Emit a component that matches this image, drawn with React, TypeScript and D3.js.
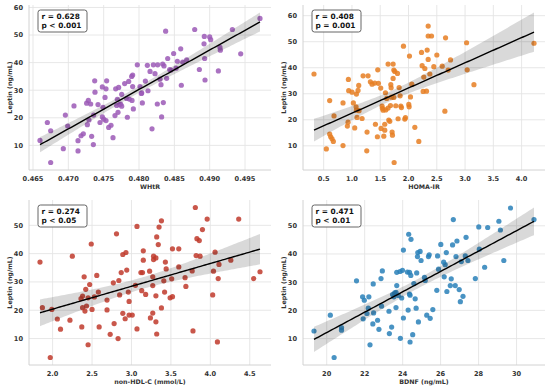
import React, { useEffect, useRef } from 'react';
import * as d3 from 'd3';

// WHtR vs leptin
const whtrX = [0.46599, 0.46703, 0.4675, 0.4675, 0.46929, 0.46958, 0.46991, 0.4708, 0.47137, 0.47137, 0.47179, 0.47212, 0.47259, 0.47283, 0.47269, 0.47292, 0.47316, 0.4733, 0.47354, 0.47358, 0.47373, 0.47377, 0.4742, 0.47448, 0.47481, 0.47481, 0.4749, 0.475, 0.47519, 0.47533, 0.47542, 0.47533, 0.47571, 0.47604, 0.47632, 0.4766, 0.4767, 0.47684, 0.47693, 0.47703, 0.47712, 0.47722, 0.4774, 0.47755, 0.47755, 0.47797, 0.47825, 0.47835, 0.47854, 0.47863, 0.47896, 0.47901, 0.4791, 0.4792, 0.4791, 0.47976, 0.48014, 0.48033, 0.48038, 0.48047, 0.4809, 0.48118, 0.48127, 0.48156, 0.48184, 0.48203, 0.48226, 0.48259, 0.48264, 0.48297, 0.48311, 0.4832, 0.48335, 0.48344, 0.48354, 0.48377, 0.48391, 0.48406, 0.48434, 0.48453, 0.4849, 0.48524, 0.48542, 0.4859, 0.48599, 0.48618, 0.48674, 0.48788, 0.48854, 0.48924, 0.4892, 0.48929, 0.48934, 0.49, 0.49014, 0.49123, 0.49146, 0.49151, 0.49321, 0.49439, 0.49712];
const whtrY = [11.8, 18.3, 15.3, 3.8, 8.8, 21.0, 17.0, 24.3, 11.7, 8.0, 13.5, 14.2, 25.3, 26.3, 17.5, 19.2, 25.0, 13.3, 10.3, 21.0, 33.4, 29.3, 24.8, 18.3, 31.2, 20.3, 23.8, 19.5, 27.4, 30.5, 33.4, 19.0, 16.5, 17.3, 12.8, 20.8, 30.5, 24.5, 26.7, 22.0, 31.0, 24.8, 25.0, 28.5, 24.2, 32.4, 27.0, 20.2, 33.2, 26.8, 35.0, 26.3, 31.3, 23.2, 35.5, 39.2, 31.3, 28.8, 29.0, 25.4, 33.3, 39.0, 29.8, 36.8, 16.0, 39.2, 36.0, 25.0, 39.2, 34.0, 32.0, 20.3, 39.5, 25.5, 38.8, 51.4, 34.3, 41.5, 37.5, 37.3, 43.3, 38.0, 40.5, 45.0, 31.8, 40.2, 41.0, 52.0, 37.5, 49.5, 46.8, 41.5, 33.7, 49.3, 48.3, 37.0, 45.5, 44.5, 52.0, 43.2, 56.0];

// HOMA-IR vs leptin
const homaX = [0.329, 0.547, 0.606, 0.606, 0.624, 0.648, 0.671, 0.683, 0.842, 0.842, 0.919, 0.931, 0.937, 0.943, 1.002, 1.025, 1.049, 1.073, 1.079, 1.079, 1.09, 1.108, 1.12, 1.126, 1.179, 1.197, 1.262, 1.267, 1.285, 1.326, 1.356, 1.403, 1.415, 1.45, 1.456, 1.468, 1.509, 1.515, 1.533, 1.539, 1.551, 1.563, 1.58, 1.58, 1.592, 1.598, 1.616, 1.639, 1.639, 1.651, 1.669, 1.681, 1.687, 1.693, 1.698, 1.71, 1.716, 1.728, 1.728, 1.74, 1.74, 1.746, 1.757, 1.775, 1.805, 1.816, 1.834, 1.852, 1.864, 1.875, 1.911, 1.934, 1.946, 2.005, 2.011, 2.017, 2.035, 2.058, 2.112, 2.182, 2.23, 2.241, 2.259, 2.27, 2.289, 2.318, 2.33, 2.348, 2.348, 2.348, 2.377, 2.407, 2.448, 2.501, 2.596, 2.643, 2.655, 2.702, 2.743, 3.027, 3.038, 3.157, 4.219];
const homaY = [37.6, 8.8, 27.4, 14.5, 13.5, 12.7, 11.7, 21.5, 26.5, 10.1, 17.6, 19.1, 35.5, 31.2, 30.6, 26.5, 16.9, 25.0, 23.7, 29.9, 20.9, 31.3, 33.2, 23.5, 20.5, 36.9, 8.1, 15.3, 36.9, 34.6, 33.7, 34.1, 18.3, 13.5, 39.2, 34.0, 32.2, 16.7, 25.3, 24.4, 23.7, 13.7, 16.0, 18.3, 30.4, 23.8, 28.2, 41.4, 24.5, 19.9, 19.4, 25.5, 33.5, 32.3, 28.7, 15.3, 14.1, 41.4, 35.9, 39.1, 28.6, 3.6, 38.6, 25.4, 37.8, 20.4, 32.4, 29.2, 25.3, 24.7, 48.3, 20.3, 20.8, 25.9, 25.0, 44.5, 28.8, 33.7, 17.1, 11.7, 45.9, 40.8, 30.9, 36.4, 39.7, 31.0, 46.8, 56.0, 52.2, 43.2, 37.6, 52.2, 40.4, 44.9, 40.6, 23.3, 51.5, 39.1, 43.0, 49.6, 39.2, 33.5, 49.4];

// non-HDL-C vs leptin
const nonHdlX = [1.84, 1.87, 1.99, 1.97, 2.06, 2.10, 2.22, 2.25, 2.36, 2.37, 2.38, 2.38, 2.40, 2.41, 2.42, 2.43, 2.45, 2.45, 2.47, 2.49, 2.50, 2.53, 2.56, 2.58, 2.59, 2.69, 2.69, 2.73, 2.77, 2.78, 2.81, 2.83, 2.84, 2.85, 2.87, 2.89, 2.89, 2.92, 2.93, 2.94, 2.96, 2.97, 2.97, 3.01, 3.05, 3.07, 3.07, 3.12, 3.13, 3.14, 3.15, 3.15, 3.18, 3.23, 3.24, 3.27, 3.27, 3.27, 3.28, 3.28, 3.31, 3.31, 3.31, 3.32, 3.32, 3.34, 3.35, 3.38, 3.38, 3.41, 3.42, 3.43, 3.44, 3.49, 3.51, 3.52, 3.52, 3.60, 3.60, 3.68, 3.69, 3.77, 3.78, 3.81, 3.82, 3.83, 3.86, 3.87, 3.90, 3.96, 4.03, 4.04, 4.06, 4.09, 4.10, 4.11, 4.26, 4.36, 4.55, 4.63];
const nonHdlY = [37.0, 20.9, 20.3, 3.3, 16.9, 13.3, 16.5, 39.1, 24.1, 14.1, 25.0, 20.9, 31.8, 19.7, 27.4, 21.5, 24.4, 7.8, 29.1, 43.4, 20.3, 24.7, 32.3, 26.4, 14.1, 23.6, 20.1, 11.5, 29.7, 15.3, 47.0, 10.0, 30.5, 25.4, 33.3, 39.7, 18.9, 17.0, 40.4, 34.2, 26.4, 23.1, 18.3, 18.3, 28.8, 13.4, 49.6, 33.3, 26.9, 33.3, 41.0, 37.7, 25.6, 33.8, 17.3, 31.8, 19.0, 28.7, 39.1, 37.9, 38.5, 25.1, 15.9, 45.9, 11.6, 43.2, 49.4, 51.6, 20.8, 30.4, 26.4, 37.0, 34.6, 24.4, 31.1, 41.7, 24.8, 35.3, 41.7, 31.5, 28.4, 33.9, 12.7, 56.3, 39.3, 45.3, 44.6, 39.1, 48.5, 52.2, 25.4, 33.8, 40.5, 8.8, 31.2, 36.2, 37.7, 52.2, 31.2, 33.6];

// BDNF vs leptin
const bdnfX = [19.33, 20.19, 20.39, 20.78, 20.78, 21.57, 21.89, 21.92, 21.98, 22.12, 22.19, 22.22, 22.28, 22.43, 22.45, 22.47, 22.68, 22.75, 22.86, 22.89, 22.93, 23.28, 23.30, 23.42, 23.47, 23.54, 23.58, 23.65, 23.65, 23.69, 23.69, 23.77, 23.86, 23.88, 23.95, 23.99, 24.04, 24.04, 24.25, 24.29, 24.32, 24.36, 24.36, 24.39, 24.39, 24.43, 24.44, 24.53, 24.59, 24.66, 24.71, 24.74, 24.78, 24.80, 24.83, 24.92, 24.97, 25.15, 25.19, 25.27, 25.36, 25.40, 25.45, 25.59, 25.80, 25.84, 25.89, 26.01, 26.16, 26.19, 26.24, 26.30, 26.33, 26.51, 26.56, 26.63, 26.67, 26.77, 26.81, 26.86, 26.98, 27.04, 27.09, 27.18, 27.30, 27.34, 27.44, 27.83, 28.01, 28.04, 28.32, 28.48, 29.07, 29.15, 29.33, 29.68, 30.92];
const bdnfY = [12.7, 18.3, 3.3, 13.9, 13.0, 30.5, 24.8, 17.0, 23.6, 18.9, 20.8, 24.8, 7.8, 15.2, 29.4, 19.1, 16.5, 13.3, 31.3, 21.5, 34.0, 19.7, 11.8, 14.1, 25.6, 24.8, 26.2, 26.4, 21.0, 28.8, 33.5, 25.3, 33.8, 10.1, 24.4, 34.2, 41.4, 17.3, 33.6, 20.1, 47.0, 25.8, 33.5, 25.4, 8.8, 32.4, 45.2, 11.4, 29.5, 24.1, 20.8, 33.3, 39.1, 40.5, 15.9, 40.9, 37.7, 31.7, 30.6, 18.3, 39.1, 39.7, 17.2, 20.3, 27.1, 39.3, 34.6, 43.4, 37.1, 31.9, 36.2, 40.5, 26.7, 28.8, 31.2, 43.2, 52.2, 28.8, 39.1, 44.6, 27.4, 23.1, 37.3, 25.0, 39.3, 45.9, 37.7, 31.3, 49.6, 41.7, 35.3, 49.4, 51.6, 48.5, 37.7, 56.3, 52.2];

const whtrTicks = [0.465, 0.47, 0.475, 0.48, 0.485, 0.49, 0.495];
const homaTicks = [0.5, 1.0, 1.5, 2.0, 2.5, 3.0, 3.5, 4.0];
const nonHdlTicks = [2.0, 2.5, 3.0, 3.5, 4.0, 4.5];
const bdnfTicks = [20, 22, 24, 26, 28, 30];
const leptinTicksTop = [10, 20, 30, 40, 50, 60];
const leptinTicksBottom = [10, 20, 30, 40, 50];

const statsText = [
  ['r = 0.628', 'p < 0.001'],
  ['r = 0.408', 'p = 0.001'],
  ['r = 0.274', 'p < 0.05'],
  ['r = 0.471', 'p < 0.01'],
];

const panels = [
  { xs: whtrX, ys: whtrY, color: '#9b59b6', xLabel: 'WHtR', xTicks: whtrTicks, yTicks: leptinTicksTop, fmt: d3.format('.3f'), stats: statsText[0] },
  { xs: homaX, ys: homaY, color: '#e67e22', xLabel: 'HOMA-IR', xTicks: homaTicks, yTicks: leptinTicksTop, fmt: d3.format('.1f'), stats: statsText[1] },
  { xs: nonHdlX, ys: nonHdlY, color: '#c0392b', xLabel: 'non-HDL-C (mmol/L)', xTicks: nonHdlTicks, yTicks: leptinTicksBottom, fmt: d3.format('.1f'), stats: statsText[2] },
  { xs: bdnfX, ys: bdnfY, color: '#2980b9', xLabel: 'BDNF (ng/mL)', xTicks: bdnfTicks, yTicks: leptinTicksBottom, fmt: d3.format('d'), stats: statsText[3] },
];

const W = 550;
const H = 391;
const colLeft = [29, 303];
const rowTop = [5, 200];
const pw = 242;
const ph = 165;
const font = 'DejaVu Sans, sans-serif';

// ordinary least squares fit with a 95% band
function fit(xs: number[], ys: number[]) {
  const n = xs.length;
  const mx = d3.mean(xs) as number;
  const my = d3.mean(ys) as number;
  let sxx = 0, sxy = 0;
  xs.forEach((x, i) => { sxx += (x - mx) ** 2; sxy += (x - mx) * (ys[i] - my); });
  const b = sxy / sxx;
  const a = my - b * mx;
  let sse = 0;
  xs.forEach((x, i) => { sse += (ys[i] - (a + b * x)) ** 2; });
  const s = Math.sqrt(sse / (n - 2));
  const [x0, x1] = d3.extent(xs) as [number, number];
  const band = d3.range(0, 101).map(k => {
    const x = x0 + (x1 - x0) * k / 100;
    const yh = a + b * x;
    const se = s * Math.sqrt(1 / n + (x - mx) ** 2 / sxx);
    return { x, y: yh, lo: yh - 1.984 * se, hi: yh + 1.984 * se };
  });
  return band;
}

function pad(lo: number, hi: number) {
  const m = (hi - lo) * 0.05;
  return [lo - m, hi + m];
}

export default function App() {
  const ref = useRef<SVGSVGElement>(null);

  useEffect(() => {
    const svg = d3.select(ref.current);
    svg.selectAll('*').remove();
    svg.append('rect').attr('width', W).attr('height', H).attr('fill', '#fff');

    panels.forEach((p, i) => {
      const left = colLeft[i % 2];
      const top = rowTop[Math.floor(i / 2)];
      const band = fit(p.xs, p.ys);

      const xExt = d3.extent(p.xs) as [number, number];
      const yLo = Math.min(d3.min(p.ys) as number, d3.min(band, d => d.lo) as number);
      const yHi = Math.max(d3.max(p.ys) as number, d3.max(band, d => d.hi) as number);

      const x = d3.scaleLinear().domain(pad(xExt[0], xExt[1])).range([0, pw]);
      const y = d3.scaleLinear().domain(pad(yLo, yHi)).range([ph, 0]);

      const g = svg.append('g').attr('transform', `translate(${left},${top})`);

      // grid
      g.selectAll('.gx').data(p.xTicks).enter().append('line')
        .attr('x1', d => x(d)).attr('x2', d => x(d))
        .attr('y1', 0).attr('y2', ph)
        .attr('stroke', '#e4e4e4').attr('stroke-width', 0.9);
      g.selectAll('.gy').data(p.yTicks).enter().append('line')
        .attr('x1', 0).attr('x2', pw)
        .attr('y1', d => y(d)).attr('y2', d => y(d))
        .attr('stroke', '#e4e4e4').attr('stroke-width', 0.9);

      // spines (left and bottom only)
      g.append('line').attr('x1', 0).attr('x2', 0).attr('y1', 0).attr('y2', ph)
        .attr('stroke', '#d2d2d2').attr('stroke-width', 1);
      g.append('line').attr('x1', 0).attr('x2', pw).attr('y1', ph).attr('y2', ph)
        .attr('stroke', '#d2d2d2').attr('stroke-width', 1);

      // tick labels
      g.selectAll('.tx').data(p.xTicks).enter().append('text')
        .attr('x', d => x(d)).attr('y', ph + 10.5)
        .attr('text-anchor', 'middle')
        .attr('font-family', font).attr('font-weight', 'bold').attr('font-size', 6.6)
        .attr('fill', '#333')
        .text(d => p.fmt(d));
      g.selectAll('.ty').data(p.yTicks).enter().append('text')
        .attr('x', -6).attr('y', d => y(d) + 2.4)
        .attr('text-anchor', 'end')
        .attr('font-family', font).attr('font-weight', 'bold').attr('font-size', 6.6)
        .attr('fill', '#333')
        .text(d => d);

      // axis labels
      g.append('text')
        .attr('x', pw / 2).attr('y', ph + 19)
        .attr('text-anchor', 'middle')
        .attr('font-family', font).attr('font-weight', 'bold').attr('font-size', 6.3)
        .attr('fill', '#333')
        .text(p.xLabel);
      g.append('text')
        .attr('transform', `translate(-17.5,${ph / 2}) rotate(-90)`)
        .attr('text-anchor', 'middle')
        .attr('font-family', font).attr('font-weight', 'bold').attr('font-size', 6.3)
        .attr('fill', '#333')
        .text('Leptin (ng/mL)');

      // scatter
      g.selectAll('.pt').data(p.xs).enter().append('circle')
        .attr('cx', d => x(d))
        .attr('cy', (d, k) => y(p.ys[k]))
        .attr('r', 2.6)
        .attr('fill', p.color)
        .attr('fill-opacity', 0.85);

      // confidence band and fit line
      const area = d3.area<{ x: number; lo: number; hi: number }>()
        .x(d => x(d.x)).y0(d => y(d.lo)).y1(d => y(d.hi));
      g.append('path').attr('d', area(band) as string)
        .attr('fill', '#000').attr('fill-opacity', 0.15);
      const line = d3.line<{ x: number; y: number }>().x(d => x(d.x)).y(d => y(d.y));
      g.append('path').attr('d', line(band) as string)
        .attr('fill', 'none').attr('stroke', '#000').attr('stroke-width', 1.4);

      // stats box
      const box = g.append('g').attr('transform', 'translate(9,5)');
      box.append('rect')
        .attr('width', 49).attr('height', 22).attr('rx', 2.5)
        .attr('fill', '#fff').attr('fill-opacity', 0.9)
        .attr('stroke', '#555').attr('stroke-width', 0.9);
      box.selectAll('text').data(p.stats).enter().append('text')
        .attr('x', 3.5).attr('y', (d, k) => 9 + k * 9)
        .attr('font-family', font).attr('font-weight', 'bold').attr('font-size', 7.4)
        .attr('fill', '#111')
        .text(d => d);
    });
  }, []);

  return (
    <svg ref={ref} width={W} height={H} style={{ position: 'absolute', left: 0, top: 0 }} />
  );
}
